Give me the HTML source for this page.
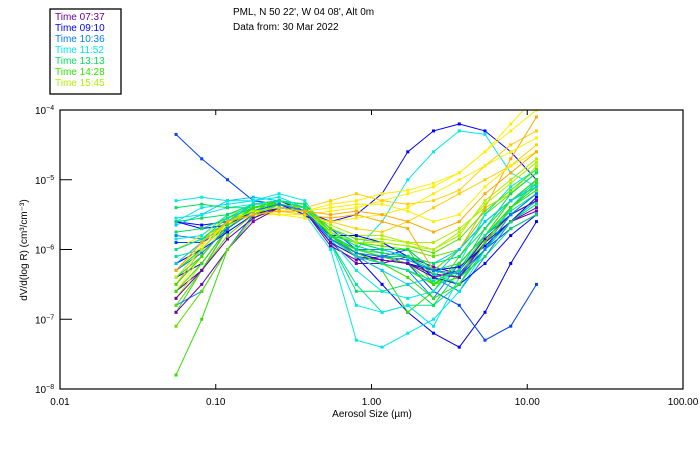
<!DOCTYPE html>
<html><head><meta charset="utf-8"><style>
body{margin:0;background:#fff;width:700px;height:450px;overflow:hidden}
svg{display:block;font-family:"Liberation Sans",sans-serif}
</style></head><body>
<svg id="chart" width="700" height="450">
<g>
<rect x="50" y="9" width="71" height="85" fill="#fff" stroke="#000" stroke-width="1.3"/>
<text x="55" y="20" font-size="10" fill="#6a00b0">Time 07:37</text>
<text x="55" y="31" font-size="10" fill="#0000ff">Time 09:10</text>
<text x="55" y="42" font-size="10" fill="#0080ff">Time 10:36</text>
<text x="55" y="53" font-size="10" fill="#00e8e8">Time 11:52</text>
<text x="55" y="64" font-size="10" fill="#00e060">Time 13:13</text>
<text x="55" y="75" font-size="10" fill="#30e000">Time 14:28</text>
<text x="55" y="86" font-size="10" fill="#b0f000">Time 15:45</text>
</g>
<text x="233" y="15" font-size="10">PML, N 50 22', W 04 08', Alt 0m</text>
<text x="233" y="30" font-size="10">Data from: 30 Mar 2022</text>
<g id="plot"></g>
<rect x="60" y="110" width="623" height="279" fill="none" stroke="#000" stroke-width="1.2"/>
<g id="axes"></g>
<text x="372" y="417" font-size="10" text-anchor="middle">Aerosol Size (µm)</text>
<text transform="translate(27,250) rotate(-90)" font-size="10" text-anchor="middle">dV/d(log R) (cm³/cm⁻³)</text>
</svg>
<script>
const sizes=[0.0556,0.0813,0.119,0.174,0.255,0.373,0.546,0.799,1.169,1.710,2.502,3.660,5.355,7.834,11.46];
const xTicks=[0.01,0.1,1,10,100];
const xTickLabels=["0.01","0.10","1.00","10.00","100.00"];
const yTicks=[-4,-5,-6,-7,-8];
const seriesColors=["#6a00b0","#0000ff","#0000ff","#0040ff","#0040ff","#0080ff","#00c8ff","#00e8e8","#00e8e8","#00e0a0","#00e060","#00e060","#30e000","#30e000","#60e000","#b0f000","#b0f000","#ffee00","#ffee00","#ffd000","#ffaa00","#0000ff","#00e8e8","#30e000","#ffee00","#0080ff","#00e060","#6a00b0","#ffd000","#60e000","#00e060","#00e8e8","#30e000","#0000ff","#00e060","#60e000","#00c8ff","#6a00b0","#ffee00","#30e000","#00e0a0","#0080ff","#b0f000","#ffaa00"];
// log10 of dV/dlogR at each size
const seriesLogValues=[
[-6.6,-6.3,-5.7,-5.45,-5.35,-5.4,-5.9,-6.2,-6.2,-6.1,-6.25,-6.35,-5.9,-5.6,-5.45],
[-6.4,-6.2,-5.7,-5.4,-5.35,-5.4,-5.8,-6.1,-6.5,-6.9,-7.2,-7.4,-6.9,-6.2,-5.6],
[-5.6,-5.65,-5.6,-5.35,-5.3,-5.45,-5.6,-5.5,-5.2,-4.6,-4.3,-4.2,-4.3,-4.6,-5.0],
[-5.9,-5.9,-5.7,-5.45,-5.35,-5.4,-5.8,-6.0,-6.1,-6.2,-6.6,-6.8,-7.3,-7.1,-6.5],
[-4.35,-4.7,-5.0,-5.3,-5.35,-5.4,-5.7,-6.0,-6.1,-6.0,-6.3,-6.4,-6.0,-5.7,-5.5],
[-5.8,-5.85,-5.7,-5.4,-5.35,-5.45,-5.8,-6.0,-6.0,-6.1,-6.4,-6.6,-6.1,-5.6,-5.3],
[-5.65,-5.5,-5.3,-5.25,-5.3,-5.35,-5.7,-5.9,-6.0,-6.1,-6.2,-6.0,-5.6,-5.3,-5.05],
[-5.6,-5.4,-5.35,-5.3,-5.2,-5.3,-5.8,-6.0,-5.6,-5.0,-4.6,-4.3,-4.35,-4.9,-5.1],
[-5.55,-5.5,-5.4,-5.35,-5.35,-5.5,-6.0,-7.3,-7.4,-7.2,-7.0,-6.6,-6.0,-5.4,-5.0],
[-6.1,-6.0,-5.6,-5.35,-5.3,-5.4,-5.9,-6.5,-6.9,-6.8,-6.8,-6.5,-6.0,-5.6,-5.3],
[-6.4,-6.1,-5.6,-5.4,-5.3,-5.4,-5.8,-6.0,-6.1,-6.1,-6.3,-6.2,-5.8,-5.4,-5.1],
[-5.4,-5.35,-5.4,-5.4,-5.3,-5.35,-5.9,-6.6,-6.6,-6.5,-6.8,-6.3,-5.7,-5.3,-5.0],
[-7.8,-7.0,-6.0,-5.5,-5.3,-5.35,-5.8,-6.0,-6.1,-6.2,-6.5,-6.3,-5.9,-5.5,-5.2],
[-6.0,-5.85,-5.6,-5.4,-5.3,-5.4,-5.8,-6.1,-6.3,-6.9,-6.6,-6.1,-5.6,-5.3,-5.1],
[-6.3,-6.0,-5.6,-5.4,-5.35,-5.4,-5.75,-5.9,-5.95,-6.0,-6.1,-6.0,-5.5,-5.2,-4.9],
[-6.2,-5.9,-5.5,-5.4,-5.35,-5.4,-5.7,-5.85,-5.85,-5.9,-5.9,-5.7,-5.4,-5.2,-4.8],
[-6.7,-6.2,-5.7,-5.45,-5.4,-5.45,-5.65,-5.8,-5.8,-5.9,-6.0,-5.8,-5.3,-5.0,-4.7],
[-6.0,-5.8,-5.55,-5.45,-5.45,-5.45,-5.35,-5.3,-5.2,-5.15,-5.05,-4.9,-4.6,-4.3,-4.0],
[-6.4,-6.0,-5.6,-5.45,-5.5,-5.5,-5.45,-5.4,-5.3,-5.2,-5.1,-4.9,-4.6,-4.2,-3.8],
[-6.2,-5.9,-5.6,-5.45,-5.4,-5.4,-5.3,-5.2,-5.3,-5.35,-5.3,-5.15,-4.8,-4.5,-4.3],
[-6.5,-6.0,-5.6,-5.5,-5.45,-5.5,-5.55,-5.5,-5.6,-5.7,-6.3,-6.0,-5.4,-4.7,-4.1],
[-5.6,-5.7,-5.65,-5.45,-5.35,-5.5,-5.8,-5.8,-5.9,-6.1,-6.4,-6.5,-6.2,-5.8,-5.5],
[-5.85,-5.8,-5.5,-5.35,-5.3,-5.4,-5.9,-6.8,-6.9,-6.8,-7.1,-6.4,-5.8,-5.5,-5.3],
[-6.9,-6.3,-5.7,-5.4,-5.35,-5.45,-5.8,-5.9,-6.0,-6.0,-6.5,-6.4,-5.8,-5.3,-5.0],
[-6.6,-6.1,-5.6,-5.5,-5.5,-5.55,-5.6,-5.55,-5.5,-5.4,-5.2,-5.0,-4.8,-4.6,-4.4],
[-6.8,-6.6,-6.0,-5.5,-5.35,-5.45,-5.9,-6.1,-6.2,-6.3,-6.7,-6.2,-5.8,-5.5,-5.3],
[-5.6,-5.55,-5.5,-5.35,-5.3,-5.4,-5.8,-5.9,-6.0,-6.0,-6.3,-6.4,-6.1,-5.7,-5.5],
[-6.9,-6.5,-6.0,-5.6,-5.4,-5.45,-5.95,-6.15,-6.1,-6.2,-6.35,-6.4,-5.9,-5.6,-5.4],
[-6.5,-6.1,-5.65,-5.5,-5.45,-5.5,-5.6,-5.7,-5.75,-5.6,-5.4,-5.2,-5.0,-4.8,-4.5],
[-7.1,-6.6,-6.0,-5.55,-5.35,-5.4,-5.85,-6.0,-6.1,-6.2,-6.3,-6.0,-5.6,-5.3,-5.1],
[-5.75,-5.7,-5.55,-5.4,-5.3,-5.35,-5.75,-5.95,-6.05,-6.1,-6.2,-6.1,-5.7,-5.2,-4.9],
[-5.3,-5.25,-5.3,-5.3,-5.25,-5.4,-5.85,-6.3,-6.6,-6.7,-6.6,-6.2,-5.5,-5.1,-4.85],
[-6.6,-6.2,-5.7,-5.45,-5.3,-5.4,-5.85,-6.05,-6.2,-6.3,-6.5,-6.2,-5.8,-5.4,-5.15],
[-6.2,-6.0,-5.75,-5.5,-5.4,-5.45,-5.8,-6.05,-6.15,-6.2,-6.3,-6.25,-5.95,-5.6,-5.25],
[-6.3,-6.0,-5.6,-5.35,-5.3,-5.4,-5.8,-6.0,-6.05,-6.1,-6.35,-6.5,-6.0,-5.6,-5.35],
[-6.8,-6.3,-5.8,-5.5,-5.35,-5.4,-5.7,-5.85,-5.9,-5.95,-6.05,-5.85,-5.45,-5.15,-4.85],
[-6.2,-5.9,-5.6,-5.35,-5.3,-5.4,-5.85,-6.1,-6.3,-6.5,-6.4,-6.0,-5.6,-5.3,-5.1],
[-6.7,-6.3,-5.85,-5.55,-5.4,-5.45,-5.9,-6.1,-6.15,-6.2,-6.4,-6.3,-5.85,-5.5,-5.3],
[-6.3,-5.95,-5.6,-5.5,-5.45,-5.45,-5.4,-5.35,-5.35,-5.45,-5.6,-5.5,-5.1,-4.8,-4.6],
[-6.5,-6.1,-5.65,-5.4,-5.3,-5.4,-5.8,-6.05,-6.2,-6.4,-6.7,-6.5,-5.9,-5.4,-5.05],
[-6.0,-5.85,-5.55,-5.35,-5.3,-5.4,-5.85,-6.1,-6.2,-6.3,-6.45,-6.3,-5.8,-5.45,-5.2],
[-6.3,-6.05,-5.7,-5.45,-5.35,-5.45,-5.85,-6.05,-6.1,-6.15,-6.3,-6.35,-6.0,-5.5,-5.2],
[-6.4,-6.0,-5.6,-5.45,-5.4,-5.45,-5.75,-5.9,-5.9,-5.95,-6.0,-5.75,-5.35,-5.05,-4.75],
[-6.3,-5.9,-5.6,-5.5,-5.45,-5.45,-5.5,-5.45,-5.5,-5.6,-5.75,-5.6,-5.2,-4.9,-4.6]
];
const X0=60,X1=683,Y0=110,Y1=389;
function xScale(v){return X0+(Math.log10(v)+2)/4*(X1-X0);}
function yScale(l){return Y0+(-4-l)/4*(Y1-Y0);}
const NS="http://www.w3.org/2000/svg";
const plot=document.getElementById('plot');
seriesLogValues.forEach((vals,i)=>{
  const g=document.createElementNS(NS,'g');
  
  
  const col=seriesColors[i%seriesColors.length];
  const n=Math.min(vals.length,sizes.length);
  const pts=[];
  for(let k=0;k<n;k++){pts.push(xScale(sizes[k]).toFixed(1)+','+yScale(vals[k]).toFixed(1));}
  const pl=document.createElementNS(NS,'polyline');
  pl.setAttribute('points',pts.join(' '));
  pl.setAttribute('fill','none');pl.setAttribute('stroke',col);pl.setAttribute('stroke-width','1');
  
  
  g.appendChild(pl);
  for(let k=0;k<n;k++){
    const r=document.createElementNS(NS,'rect');
    r.setAttribute('x',xScale(sizes[k])-1.5);r.setAttribute('y',yScale(vals[k])-1.5);
    r.setAttribute('width',3);r.setAttribute('height',3);r.setAttribute('fill',col);
    
    
    g.appendChild(r);
  }
  plot.appendChild(g);
});
const clip=document.createElementNS(NS,'clipPath');clip.id='cp';
const cr=document.createElementNS(NS,'rect');cr.setAttribute('x',X0);cr.setAttribute('y',Y0);cr.setAttribute('width',X1-X0);cr.setAttribute('height',Y1-Y0);
clip.appendChild(cr);document.getElementById('chart').appendChild(clip);
plot.setAttribute('clip-path','url(#cp)');
const axes=document.getElementById('axes');
xTicks.forEach((t,i)=>{
  const x=xScale(t);
  if(i>0&&i<xTicks.length-1){
    ['top','bottom'].forEach(s=>{
      const l=document.createElementNS(NS,'line');
      const y=s==='top'?Y0:Y1;
      l.setAttribute('x1',x);l.setAttribute('x2',x);l.setAttribute('y1',y);l.setAttribute('y2',s==='top'?y+5:y-5);
      l.setAttribute('stroke','#000');
      
      
      axes.appendChild(l);
    });
  }
  const tx=document.createElementNS(NS,'text');
  tx.setAttribute('x',x);tx.setAttribute('y',405);tx.setAttribute('font-size','10');tx.setAttribute('text-anchor','middle');
  tx.textContent=xTickLabels[i];
  
  
  axes.appendChild(tx);
});
yTicks.forEach((t,i)=>{
  const y=yScale(t);
  if(i>0&&i<yTicks.length-1){
    const l=document.createElementNS(NS,'line');
    l.setAttribute('x1',X0);l.setAttribute('x2',X0+12);l.setAttribute('y1',y);l.setAttribute('y2',y);l.setAttribute('stroke','#000');
    
    
    axes.appendChild(l);
  }
  const tx=document.createElementNS(NS,'text');
  tx.setAttribute('x',35);tx.setAttribute('y',y+4);tx.setAttribute('font-size','10');
  tx.innerHTML='10<tspan dy="-4" font-size="7">'+String(t).replace('-','−')+'</tspan>';
  
  
  axes.appendChild(tx);
});
</script>
</body></html>
